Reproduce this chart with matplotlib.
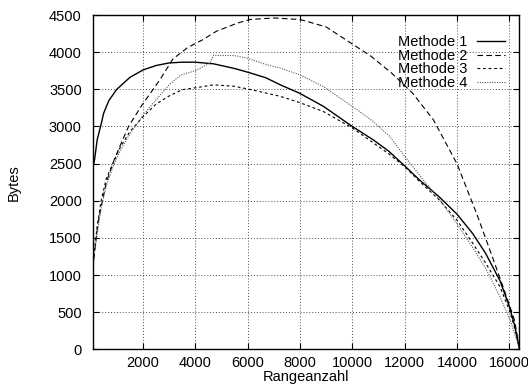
import numpy as np
import matplotlib.pyplot as plt

plt.rcParams['font.family'] = ['Liberation Sans', 'DejaVu Sans']

# Methode 1 (solid)
x1 = [88, 150, 250, 380, 500, 700, 1000, 1500, 2000, 2500, 3000, 3500, 4000, 4700, 5500, 6000,
      6700, 7250, 8000, 8900, 10000, 10800, 11400, 12000, 12600, 13300, 14000, 14600, 15100,
      15650, 16000, 16200, 16384]
y1 = [2450, 2550, 2820, 3000, 3180, 3350, 3500, 3660, 3760, 3820, 3855, 3865, 3865, 3843, 3780, 3731,
      3655, 3560, 3445, 3270, 3000, 2820, 2665, 2470, 2270, 2060, 1820, 1560, 1290,
      920, 580, 330, 20]

# Methode 2 (dashed)
x2 = [88, 150, 280, 450, 600, 900, 1200, 1450, 1930, 2650, 3150, 3700, 4300, 4800, 5600, 6100,
      7000, 8000, 9000, 10000, 10700, 11500, 12300, 13100, 14000, 14750, 15400, 15900,
      16200, 16384]
y2 = [1100, 1300, 1700, 2000, 2250, 2550, 2800, 3000, 3270, 3630, 3910, 4060, 4170, 4280, 4390, 4440,
      4460, 4440, 4340, 4110, 3950, 3720, 3450, 3090, 2500, 1830, 1200, 705,
      395, 20]

# Methode 3 (short dashes)
x3 = [88, 150, 250, 400, 600, 850, 1100, 1500, 2000, 2500, 3000, 3500, 4000, 4700, 5500, 6000,
      6700, 7250, 8000, 8900, 10000, 10800, 11400, 12000, 12600, 13300, 14000, 14600, 15100,
      15650, 16000, 16200, 16384]
y3 = [1100, 1350, 1650, 2000, 2300, 2500, 2700, 2930, 3130, 3300, 3410, 3495, 3520, 3560, 3540, 3505,
      3450, 3405, 3320, 3200, 2980, 2780, 2630, 2460, 2250, 2020, 1740, 1430, 1160,
      840, 530, 300, 15]

# Methode 4 (dotted)
x4 = [88, 150, 250, 400, 600, 850, 1100, 1500, 2000, 2500, 3000, 3430, 4000, 4550, 4700, 4900,
      5470, 5980, 6740, 7250, 8000, 8880, 10000, 10790, 11430, 12000, 12600, 13350, 14000,
      14630, 15140, 15650, 16040, 16384]
y4 = [1150, 1300, 1550, 1900, 2200, 2450, 2650, 2900, 3150, 3360, 3560, 3690, 3750, 3850, 3960, 3955,
      3955, 3920, 3830, 3785, 3695, 3540, 3270, 3070, 2865, 2600, 2330, 2010, 1690,
      1356, 1063, 703, 390, 20]

xticks = [2000, 4000, 6000, 8000, 10000, 12000, 14000, 16000]
yticks = [0, 500, 1000, 1500, 2000, 2500, 3000, 3500, 4000, 4500]

fig = plt.figure(figsize=(5.28, 3.87), dpi=100)
ax = fig.add_axes([0.176, 0.0974, 0.8075, 0.8638])

ax.plot(x1, y1, color='black', lw=1.0, label='Methode 1')
ax.plot(x2, y2, color='black', lw=0.8, linestyle=(0, (5, 3)), label='Methode 2')
ax.plot(x3, y3, color='black', lw=0.8, linestyle=(0, (2.5, 2.5)), label='Methode 3')
ax.plot(x4, y4, color='0.35', lw=0.8, linestyle=(0, (1, 1.2)), label='Methode 4')

ax.set_xlim(88, 16384)
ax.set_ylim(0, 4500)
ax.set_xticks(xticks)
ax.set_yticks(yticks)
ax.tick_params(direction='in', top=True, right=True, length=4, labelsize=10.5, pad=5)
ax.tick_params(axis='y', pad=8)
ax.grid(True, color='0.3', linestyle=(0, (1, 2)), lw=0.7)
for s in ax.spines.values():
    s.set_linewidth(1.0)

ax.set_xlabel('Rangeanzahl', fontsize=10.5, labelpad=0)
ax.set_ylabel('Bytes', fontsize=10.5, labelpad=20)

ax.legend(loc='upper right', bbox_to_anchor=(505 / 528, 1 - 35 / 387),
          bbox_transform=fig.transFigure, frameon=False, markerfirst=False,
          fontsize=10.5, handlelength=1.95, handletextpad=0.6, labelspacing=-0.02,
          borderpad=0, borderaxespad=0)

plt.savefig('out.png', dpi=100)
